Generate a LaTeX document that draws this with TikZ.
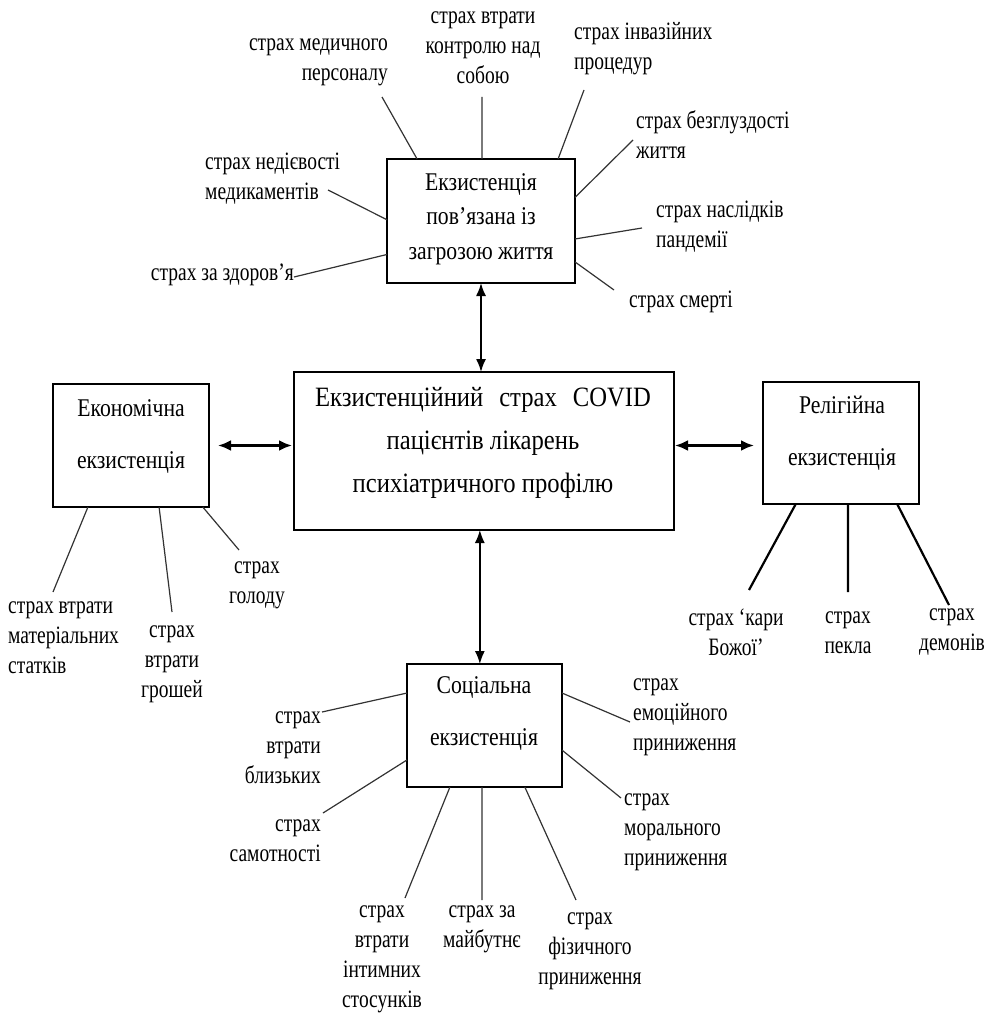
\documentclass[tikz,border=0pt]{standalone}
\usepackage{fontspec}
\setmainfont{Liberation Serif}
\newfontfamily\labf{Liberation Serif}[FakeStretch=0.78]
\newfontfamily\boxf{Liberation Serif}[FakeStretch=0.85]
\newfontfamily\cenf{Liberation Serif}[FakeStretch=0.88]
\usetikzlibrary{arrows.meta,calc}
\begin{document}
\begin{tikzpicture}[x=1pt,y=-1pt,
  bx/.style={draw, line width=1.3pt, inner sep=0pt, outer sep=0pt},
  lab/.style={font=\labf\fontsize{25}{30}\selectfont, inner sep=0pt},
  btxt/.style={font=\boxf\fontsize{25.5}{34.5}\selectfont, align=center, inner sep=0pt},
  btxtw/.style={font=\boxf\fontsize{25.5}{52}\selectfont, align=center, inner sep=0pt},
  ctxt/.style={font=\cenf\fontsize{28}{43}\selectfont, align=center, inner sep=0pt},
  con/.style={draw=black!80, line width=1.2pt},
  rcon/.style={draw=black, line width=2.2pt},
  harr/.style={{Latex[length=13pt,width=11pt]}-{Latex[length=13pt,width=11pt]}, line width=2.5pt},
  varr/.style={{Latex[length=13pt,width=10pt]}-{Latex[length=13pt,width=10pt]}, line width=1.6pt}
]
\useasboundingbox (0,0) rectangle (986,1016);

% boxes
\node[bx, minimum width=188pt, minimum height=124pt] (top) at (481,221) {};
\node[bx, minimum width=380pt, minimum height=158pt] (central) at (484,451) {};
\node[bx, minimum width=156pt, minimum height=123pt] (econ) at (131,445.5) {};
\node[bx, minimum width=156pt, minimum height=122pt] (relig) at (841,443) {};
\node[bx, minimum width=155pt, minimum height=123pt] (social) at (484.5,725.5) {};

% box texts
\node[btxt] (topT) at (481,219) {Екзистенція\\пов’язана із\\загрозою життя};
\node[ctxt] (centralT) at (483,443) {Екзистенційний\hspace{0.35em} страх\hspace{0.35em} COVID\\пацієнтів лікарень\\психіатричного профілю};
\node[btxtw] (econT) at (131,437) {Економічна\\екзистенція};
\node[btxtw] (religT) at (842,433.5) {Релігійна\\екзистенція};
\node[btxtw] (socialT) at (484,714) {Соціальна\\екзистенція};

% arrows
\draw[varr] (top.south) -- (top.south |- central.north);
\coordinate (socTop) at ($(social.north west)!0.47!(social.north east)$);
\draw[varr] (socTop |- central.south) -- (socTop);
\draw[harr, shorten <=9pt, shorten >=2pt] (econ.east) -- (central.west |- econ.east);
\draw[harr, shorten <=1pt, shorten >=9pt] (central.east |- econ.east) -- (relig.west |- econ.east);

% top labels
\node[lab, anchor=east, align=right] (med) at (388,62.5) {страх медичного\\персоналу};
\node[lab, align=center] (ctrl) at (483,48) {страх втрати\\контролю над\\собою};
\node[lab, anchor=west, align=left] (inv) at (574,49) {страх інвазійних\\процедур};
\node[lab, anchor=west, align=left] (bezgl) at (636,135) {страх безглуздості\\життя};
\node[lab, anchor=west, align=left] (nasl) at (656,227) {страх наслідків\\пандемії};
\node[lab, anchor=west] (smert) at (629,302) {страх смерті};
\node[lab, anchor=west, align=left] (nediev) at (205,179) {страх недієвості\\медикаментів};
\node[lab, anchor=east] (zdor) at (294,275) {страх за здоров’я};

\coordinate (cMed) at (382,97);
\coordinate (cCtrl) at (482,97);
\coordinate (cInv) at (584,90);
\coordinate (cBez) at (633,140);
\coordinate (cNas) at (642,228);
\coordinate (cSme) at (614,290);
\coordinate (cNed) at (328,190);
\coordinate (cZdo) at (294,277);
\draw[con] ($(top.north west)!0.16!(top.north east)$) -- (cMed);
\draw[con] ($(top.north west)!0.505!(top.north east)$) -- (cCtrl);
\draw[con] ($(top.north west)!0.91!(top.north east)$) -- (cInv);
\draw[con] ($(top.north east)!0.31!(top.south east)$) -- (cBez);
\draw[con] ($(top.north east)!0.645!(top.south east)$) -- (cNas);
\draw[con] ($(top.north east)!0.83!(top.south east)$) -- (cSme);
\draw[con] ($(top.north west)!0.49!(top.south west)$) -- (cNed);
\draw[con] ($(top.north west)!0.77!(top.south west)$) -- (cZdo);

% economic labels
\node[lab, anchor=west, align=left] (mat) at (8,638) {страх втрати\\матеріальних\\статків};
\node[lab, align=center] (grosh) at (172,664) {страх\\втрати\\грошей};
\node[lab, align=center] (golod) at (257,585) {страх\\голоду};
\coordinate (cMat) at (53,592);
\coordinate (cGro) at (172,612);
\coordinate (cGol) at (239,550);
\draw[con] ($(econ.south west)!0.224!(econ.south east)$) -- (cMat);
\draw[con] ($(econ.south west)!0.68!(econ.south east)$) -- (cGro);
\draw[con] ($(econ.south west)!0.96!(econ.south east)$) -- (cGol);

% religious labels
\node[lab, align=center] (kary) at (736,632) {страх ‘кари\\Божої’};
\node[lab, align=center] (pekla) at (848,633) {страх\\пекла};
\node[lab, align=center] (demon) at (952,632) {страх\\демонів};
\coordinate (cKar) at (749,590);
\coordinate (cPek) at (848,592);
\coordinate (cDem) at (949,605);
\draw[rcon] ($(relig.south west)!0.21!(relig.south east)$) -- (cKar);
\draw[rcon] ($(relig.south west)!0.545!(relig.south east)$) -- (cPek);
\draw[rcon] ($(relig.south west)!0.86!(relig.south east)$) -- (cDem);

% social labels
\node[lab, anchor=east, align=right] (blyz) at (321,748) {страх\\втрати\\близьких};
\node[lab, anchor=east, align=right] (samot) at (321,841) {страх\\самотності};
\node[lab, align=center] (intym) at (382,959.5) {страх\\втрати\\інтимних\\стосунків};
\node[lab, align=center] (maib) at (482,929) {страх за\\майбутнє};
\node[lab, align=center] (fiz) at (590,951) {страх\\фізичного\\приниження};
\node[lab, anchor=west, align=left] (emoc) at (633,717.5) {страх\\емоційного\\приниження};
\node[lab, anchor=west, align=left] (moral) at (624,832) {страх\\морального\\приниження};
\coordinate (cBly) at (322,712);
\coordinate (cSam) at (323,813);
\coordinate (cInt) at (405,898);
\coordinate (cMai) at (482,900);
\coordinate (cFiz) at (576,900);
\coordinate (cEmo) at (630,722);
\coordinate (cMor) at (621,798);
\draw[con] ($(social.north west)!0.236!(social.south west)$) -- (cBly);
\draw[con] ($(social.north west)!0.78!(social.south west)$) -- (cSam);
\draw[con] ($(social.south west)!0.277!(social.south east)$) -- (cInt);
\draw[con] ($(social.south west)!0.484!(social.south east)$) -- (cMai);
\draw[con] ($(social.south west)!0.76!(social.south east)$) -- (cFiz);
\draw[con] ($(social.north east)!0.236!(social.south east)$) -- (cEmo);
\draw[con] ($(social.north east)!0.70!(social.south east)$) -- (cMor);
\end{tikzpicture}
\end{document}
